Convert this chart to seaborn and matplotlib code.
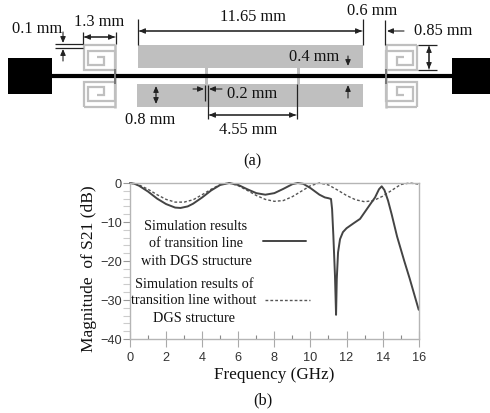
import matplotlib
matplotlib.use("Agg")
import matplotlib.pyplot as plt
from matplotlib.patches import Rectangle
from matplotlib.ticker import MultipleLocator
import pandas as pd
import seaborn as sns

sns.set_theme(style="white")
SERIF = "Liberation Serif"
SANS = "Liberation Sans"
W, H = 490, 414

# ---- data: S21 curves ----
freq_dgs = [0,0.25,0.5,1,1.5,2,2.5,2.8,3.2,3.5,4,4.5,5,5.5,6,6.5,7,7.5,8,8.5,9,9.3,9.6,10,10.5,10.8,11,11.14,11.2,11.27,11.36,11.42,11.46,11.53,11.64,11.8,12,12.4,12.75,13.2,13.58,13.8,13.95,14.1,14.3,14.5,14.8,15.2,15.5,16]
s21_dgs = [0,-0.2,-0.7,-2.2,-4,-5.4,-6.3,-6.4,-6,-5.3,-3.7,-1.9,-0.5,0,-0.5,-1.6,-2.6,-3,-2.6,-1.5,-0.3,0,-0.2,-1.3,-3,-3.7,-3.9,-4.1,-6.7,-13.5,-23.8,-33.8,-24.6,-17.8,-14.4,-12.6,-11.6,-10.3,-9.2,-6.2,-3.7,-1.6,-0.85,-1.8,-4.5,-8,-13.7,-20,-24.5,-32.5]
freq_ref = [0,0.5,1,1.5,2,2.5,3,3.5,4,4.5,5,5.5,6,6.5,7,7.5,8,8.5,9,9.5,10,10.5,11,11.5,12,12.5,13,13.5,14,14.5,15,15.5,16]
s21_ref = [0,-0.5,-1.6,-3,-4.2,-4.9,-4.9,-4.3,-3,-1.6,-0.4,0,-0.7,-1.9,-3.2,-4.2,-4.7,-4.5,-3.5,-2.1,-0.7,0,-0.5,-1.8,-3.2,-4.3,-4.8,-4.5,-3.4,-1.9,-0.4,0,-0.3]
x_ticks = [0,2,4,6,8,10,12,14,16]
y_ticks = [0,-10,-20,-30,-40]

# ---- schematic dimensions (pixels of the drawing) ----
pads = [(8,59,44,36),(452,59,38,36)]
ground_rects = [(138,46,225,23),(137,85,226,23)]
stubs = [(205,69,3,16),(297,69,3,16)]
spines_x = [115,386]
spiral_x = [0,31,31,4,4,20,20,13]
spiral_y = [25,25,6,6,20,20,12,12]
dim_segments = [
 (55,45,83,45),(55,49,83,49),(83,33,83,45),(116,33,116,45),
 (138,20,138,46),(363,20,363,46),(385,21,385,46),
 (418,46,437,46),(418,71,437,71),
 (205,86,205,102),(208,86,208,120),(297,85,297,120),
]
dim_arrows = [
 ((63,33),(63,44)),((63,62),(63,50)),
 ((84,38),(115,38)),((115,38),(84,38)),
 ((362,32),(139,32)),((139,32),(362,32)),
 ((404,32),(387,32)),
 ((429,47),(429,70)),((429,70),(429,47)),
 ((348,57),(348,67)),((348,99),(348,86)),
 ((156,96),(156,105)),((156,96),(156,87)),
 ((193,90),(204,90)),((222,90),(209,90)),
 ((296,116),(209,116)),((209,116),(296,116)),
]
dim_labels = [
 ("0.1 mm",37,29),("1.3 mm",99,22),("11.65 mm",253,17),("0.6 mm",372,11),
 ("0.85 mm",443,31),("0.4 mm",314,57),("0.2 mm",252,94),("0.8 mm",150,120),
 ("4.55 mm",248,130),("(a)",252,161),("(b)",263,400),
]
legend_dgs = ["Simulation results","of transition line","with DGS structure"]
legend_dgs_y = [227,244,262]
legend_ref = ["Simulation results of","transition line without","DGS structure"]
legend_ref_y = [285,301,319]

fig = plt.figure(figsize=(W/100, H/100), dpi=100, facecolor="white")

# ---- S21 chart ----
ax = fig.add_axes([130/W, 1-340/H, 288.7/W, 156/H])
df_dgs = pd.DataFrame({"f":freq_dgs,"s":s21_dgs})
df_ref = pd.DataFrame({"f":freq_ref,"s":s21_ref})
sns.lineplot(data=df_ref,x="f",y="s",ax=ax,color="#555555",lw=1.0,linestyle=(0,(2,1.5)),errorbar=None,clip_on=False)
sns.lineplot(data=df_dgs,x="f",y="s",ax=ax,color="#444444",lw=1.4,errorbar=None,clip_on=False)
ax.set_xlim(0,16); ax.set_ylim(-40,0)
ax.set_xticks(x_ticks); ax.set_yticks(y_ticks)
ax.xaxis.set_minor_locator(MultipleLocator(1))
ax.yaxis.set_minor_locator(MultipleLocator(2))
for s in ax.spines.values():
    s.set_color("#b5b5b5"); s.set_linewidth(1.0)
ax.tick_params(axis="x",which="major",direction="inout",length=11,color="#aaaaaa",width=0.8,pad=3,labelsize=9.2,labelcolor="#333333",bottom=True)
ax.tick_params(axis="x",which="minor",direction="in",length=3,color="#888888",width=0.8,bottom=True)
ax.tick_params(axis="y",which="major",direction="out",length=5,color="#999999",width=0.8,pad=1,labelsize=9.2,labelcolor="#333333",left=True)
ax.tick_params(axis="y",which="minor",direction="out",length=5,color="#cccccc",width=0.8,left=True)
for t in ax.get_xticklabels()+ax.get_yticklabels():
    t.set_fontfamily(SANS)
ax.set_xlabel("Frequency (GHz)",fontfamily=SERIF,fontsize=12.3,color="#111111",labelpad=2)
ax.set_ylabel("Magnitude  of S21 (dB)",fontfamily=SERIF,fontsize=12.5,color="#111111")
ax.yaxis.set_label_coords(-33/288.7, 1-(268.5-184)/156)

# ---- overlay in drawing pixels ----
ov = fig.add_axes([0,0,1,1],facecolor="none")
ov.set_xlim(0,W); ov.set_ylim(H,0); ov.axis("off")
GRAY = "#bfbfbf"
for r in ground_rects+stubs:
    ov.add_patch(Rectangle((r[0],r[1]),r[2],r[3],fc=GRAY,ec="none"))
def spiral(x_base, y_base, xdir, ydir):
    xs = [x_base]+[x_base+xdir*v for v in spiral_x]
    ys = [y_base]+[y_base+ydir*v for v in spiral_y]
    ov.plot(xs,ys,color=GRAY,lw=1.6,solid_joinstyle="miter",solid_capstyle="butt")
# outer edge along the spine, then into the spiral
for sx,xdir in zip(spines_x,[-1,1]):
    for y_base,ydir in [(46,1),(108,-1)]:
        far = sx+xdir*31
        ov.plot([sx,far],[y_base,y_base],color=GRAY,lw=1.6,solid_capstyle="butt")
        spiral(far,y_base,-xdir,ydir)
    ov.plot([sx,sx],[45,109],color=GRAY,lw=1.8,solid_capstyle="butt")
ov.plot([52,452],[77,77],color="black",lw=3.0,solid_capstyle="butt",zorder=3)
for sx in spines_x:
    ov.plot([sx,sx],[70,85],color="#777777",lw=1.4,zorder=4,solid_capstyle="butt")
for p in pads:
    ov.add_patch(Rectangle((p[0],p[1]),p[2],p[3],fc="black",ec="none",zorder=5))
for x1,y1,x2,y2 in dim_segments:
    ov.plot([x1,x2],[y1,y2],color="#222222",lw=0.9,solid_capstyle="butt",zorder=6)
for a,b in dim_arrows:
    ov.annotate("",xy=b,xytext=a,arrowprops=dict(arrowstyle="-|>,head_width=0.13,head_length=0.3",color="#222222",lw=0.8,shrinkA=0,shrinkB=0),zorder=6)
for s,x,y in dim_labels:
    ov.text(x,y,s,ha="center",va="center",fontfamily=SERIF,fontsize=11.8,color="#111111",zorder=7)
for s,y in zip(legend_dgs,legend_dgs_y):
    ov.text(196,y,s,ha="center",va="center",fontfamily=SERIF,fontsize=10.3,color="#111111",zorder=7)
for s,y in zip(legend_ref,legend_ref_y):
    ov.text(194,y,s,ha="center",va="center",fontfamily=SERIF,fontsize=10.3,color="#111111",zorder=7)
ov.plot([263,306],[242,242],color="#444444",lw=1.4)
ov.plot([265,310],[301,301],color="#555555",lw=1.0,linestyle=(0,(2,1.5)))

fig.savefig("out.png",dpi=100)
